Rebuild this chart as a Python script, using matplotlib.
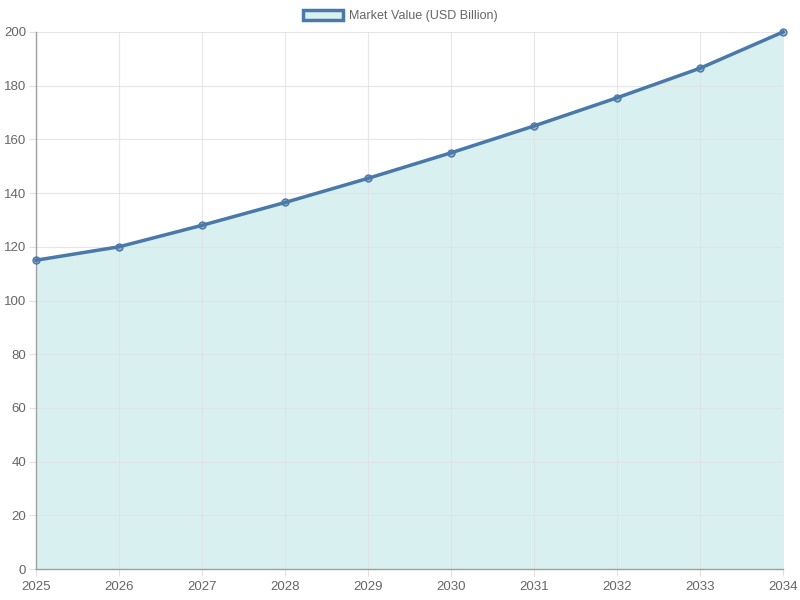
import matplotlib
matplotlib.use("Agg")
import matplotlib.pyplot as plt
from matplotlib.patches import Patch

anos = [2025, 2026, 2027, 2028, 2029, 2030, 2031, 2032, 2033, 2034]
valor_mercado = [115, 120, 128, 136.5, 145.5, 155, 165, 175.5, 186.5, 200]
etiqueta = "Market Value (USD Billion)"

plt.rcParams['font.family'] = ['Liberation Sans', 'DejaVu Sans']

color_linea = "#4a78a8"
color_relleno = "#d9f0f1"

fig = plt.figure(figsize=(8, 6), dpi=100)
ax = fig.add_axes([36/800, 1 - 569/600, (783-36)/800, (569-32)/600])

ax.fill_between(anos, valor_mercado, 0, color=color_relleno, zorder=1)
ax.plot(anos, valor_mercado, color=color_linea, linewidth=2.5, zorder=5,
        marker='o', markersize=5, markerfacecolor=(74/255, 120/255, 168/255, 0.5),
        markeredgecolor=color_linea, markeredgewidth=1, label=etiqueta, clip_on=False)

ax.set_xlim(2025, 2034)
ax.set_ylim(0, 200)
ax.set_xticks(anos)
ax.set_yticks(range(0, 201, 20))
ax.grid(True, color="#e0e0e0", linewidth=0.8)
ax.set_axisbelow(False)
for linea in ax.get_xgridlines() + ax.get_ygridlines():
    linea.set_zorder(2)
    linea.set_alpha(0.8)

for lado in ['top', 'right']:
    ax.spines[lado].set_visible(False)
for lado in ['left', 'bottom']:
    ax.spines[lado].set_color("#a0a0a0")
    ax.spines[lado].set_linewidth(1)
    ax.spines[lado].set_zorder(4)

ax.tick_params(axis='y', colors="#e0e0e0", labelcolor="#666666", labelsize=9.5, length=5, pad=2)
ax.tick_params(axis='x', colors="#e0e0e0", labelcolor="#666666", labelsize=9.5, length=5, pad=4)

caja = Patch(facecolor=color_relleno, edgecolor=color_linea, linewidth=2.5)
fig.legend([caja], [etiqueta], loc='center', bbox_to_anchor=(0.5, 1 - 16/600),
           frameon=False, fontsize=9, labelcolor="#666666",
           handlelength=3.2, handleheight=0.9, handletextpad=0.5)

fig.savefig("out.png", dpi=100)
